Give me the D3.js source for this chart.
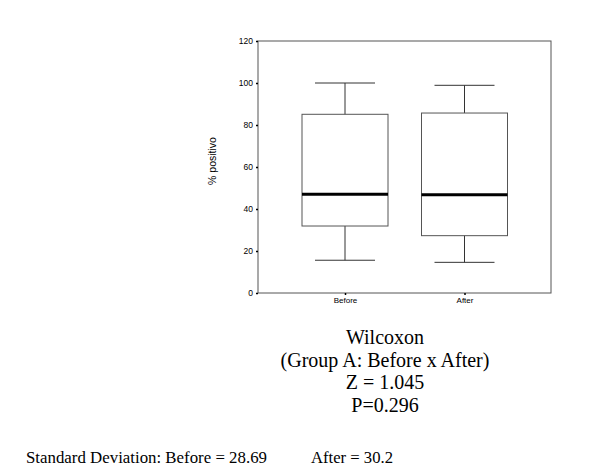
<!DOCTYPE html>
<html><head><meta charset="utf-8">
<script src="https://cdn.jsdelivr.net/npm/d3@7"></script>
<style>body{margin:0;background:#fff}svg{display:block}</style>
</head><body>
<script>
const categories = ["Before", "After"];
const whiskerLow = [15.6, 14.6];
const q1 = [31.9, 27.3];
const median = [47.0, 46.8];
const q3 = [85.1, 85.7];
const whiskerHigh = [100, 98.9];
const yTicks = [0, 20, 40, 60, 80, 100, 120];
const statLines = ["Wilcoxon", "(Group A: Before x After)", "Z = 1.045", "P=0.296"];
const sdText = ["Standard Deviation: Before = 28.69", "After = 30.2"];

const svg = d3.select("body").append("svg").attr("width", 600).attr("height", 473);
const L = 258, R = 551, T = 41, B = 293;
const x = d3.scalePoint().domain(categories).range([345, 464.5]);
const y = d3.scaleLinear().domain([0, 120]).range([B, T]);

svg.append("rect").attr("x", L).attr("y", T).attr("width", R - L).attr("height", B - T)
  .attr("fill", "none").attr("stroke", "#555").attr("stroke-width", 1);

const yAxis = svg.append("g").attr("transform", `translate(${L},0)`)
  .call(d3.axisLeft(y).tickValues(yTicks).tickSize(2).tickPadding(3));
yAxis.select(".domain").remove();
yAxis.selectAll("text").attr("font-family", "Liberation Sans, Arial").attr("font-size", 8.5).attr("fill", "#000");
yAxis.selectAll("line").attr("stroke", "#000").attr("stroke-width", 1.5);

const xAxis = svg.append("g").attr("transform", `translate(0,${B})`)
  .call(d3.axisBottom(x).tickSize(2).tickPadding(2));
xAxis.select(".domain").remove();
xAxis.selectAll("text").attr("font-family", "Liberation Sans, Arial").attr("font-size", 8).attr("fill", "#000");
xAxis.selectAll("line").attr("stroke", "#000").attr("stroke-width", 1.5);

svg.append("text").attr("transform", "translate(216,161) rotate(-90)")
  .attr("text-anchor", "middle").attr("font-family", "Liberation Sans, Arial").attr("font-size", 10.5)
  .text("% positivo");

const boxW = 86, capW = 60;
categories.forEach((c, i) => {
  const cx = x(c);
  const g = svg.append("g").attr("stroke", "#333").attr("fill", "none").attr("stroke-width", 1);
  g.append("line").attr("x1", cx).attr("x2", cx).attr("y1", y(whiskerHigh[i])).attr("y2", y(q3[i]));
  g.append("line").attr("x1", cx).attr("x2", cx).attr("y1", y(q1[i])).attr("y2", y(whiskerLow[i]));
  g.append("line").attr("x1", cx - capW / 2).attr("x2", cx + capW / 2).attr("y1", y(whiskerHigh[i])).attr("y2", y(whiskerHigh[i]));
  g.append("line").attr("x1", cx - capW / 2).attr("x2", cx + capW / 2).attr("y1", y(whiskerLow[i])).attr("y2", y(whiskerLow[i]));
  g.append("rect").attr("x", cx - boxW / 2).attr("width", boxW)
    .attr("y", y(q3[i])).attr("height", y(q1[i]) - y(q3[i])).attr("stroke", "#555");
  g.append("line").attr("x1", cx - boxW / 2).attr("x2", cx + boxW / 2)
    .attr("y1", y(median[i])).attr("y2", y(median[i])).attr("stroke", "#000").attr("stroke-width", 3);
});

statLines.forEach((t, i) => {
  svg.append("text").attr("x", 385).attr("y", 344 + i * 22.7).attr("text-anchor", "middle")
    .attr("font-family", "Liberation Serif, Times New Roman").attr("font-size", 20).text(t);
});
svg.append("text").attr("x", 26).attr("y", 463).attr("font-family", "Liberation Serif, Times New Roman")
  .attr("font-size", 17).attr("textLength", 241).attr("lengthAdjust", "spacingAndGlyphs").text(sdText[0]);
svg.append("text").attr("x", 311).attr("y", 463).attr("font-family", "Liberation Serif, Times New Roman")
  .attr("font-size", 17).attr("textLength", 82).attr("lengthAdjust", "spacingAndGlyphs").text(sdText[1]);
</script>
</body></html>
